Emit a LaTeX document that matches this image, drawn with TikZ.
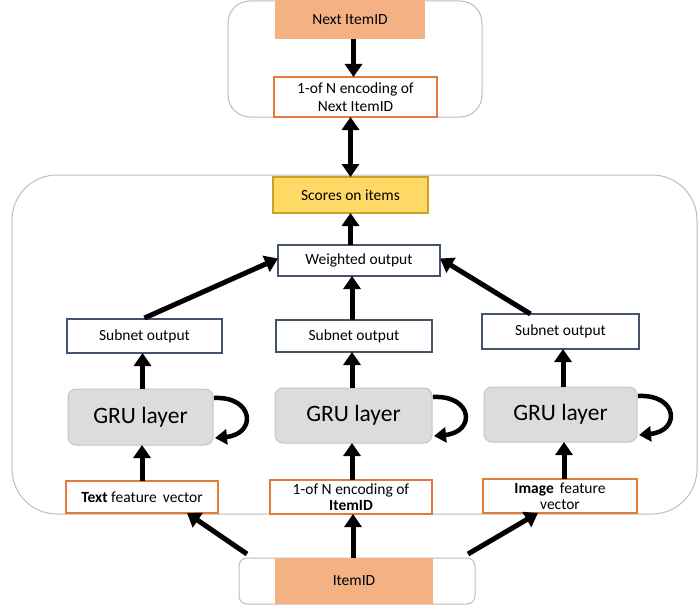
\documentclass[tikz,border=0pt]{standalone}
\usepackage{fontspec}
\setmainfont{Carlito}
\usetikzlibrary{arrows.meta,calc}
\definecolor{orFill}{HTML}{F4B183}
\definecolor{orLine}{HTML}{E07B39}
\definecolor{ylFill}{HTML}{FFD966}
\definecolor{ylLine}{HTML}{C9A227}
\definecolor{slate}{HTML}{44546A}
\definecolor{gruFill}{HTML}{DCDCDC}
\definecolor{gruLine}{HTML}{C4C4C4}
\definecolor{frame}{HTML}{BDBDBD}
\tikzset{
  box/.style={draw, line width=2.2pt, fill=white, outer sep=0pt, inner sep=1pt,
    align=center, font=\fontsize{15.5}{16}\selectfont},
  encbox/.style={box, draw=orLine},
  outbox/.style={box, draw=slate},
  grubox/.style={draw=gruLine, fill=gruFill, line width=1pt, rounded corners=8pt,
    outer sep=0pt, font=\fontsize{23.5}{25}\selectfont},
  container/.style={draw=frame, line width=1pt, fill=white},
  arr/.style={line width=5pt, -{Triangle[length=13pt,width=17pt]}},
  darr/.style={line width=5pt, {Triangle[length=13pt,width=17pt]}-{Triangle[length=13pt,width=17pt]}},
  selfloop/.style={line width=4.5pt, -{Triangle[length=12pt,width=15pt]}},
}
\begin{document}
\begin{tikzpicture}[x=1pt,y=-1pt]
\useasboundingbox (0,0) rectangle (699,610);

% frames around the three parts
\draw[container, rounded corners=22pt] (228,1) rectangle (482,117);
\draw[container, rounded corners=45pt] (12,175) rectangle (697,514);

% output part
\node[fill=orFill, minimum width=150pt, minimum height=39pt, outer sep=0pt,
  font=\fontsize{15.5}{16}\selectfont] (next) at (350,19.5) {Next ItemID};
\node[encbox, minimum width=163pt, minimum height=40pt, font=\fontsize{15.5}{17.5}\selectfont] (encNext) at (355.5,97)
  {1-of N encoding of\\Next ItemID};

% scoring and merging
\node[box, draw=ylLine, fill=ylFill, line width=1.2pt, minimum width=155pt, minimum height=36pt]
  (scores) at (350.5,195) {Scores on items};
\node[outbox, minimum width=162pt, minimum height=31pt] (weighted) at (359,260.5) {Weighted output};

% three subnets
\node[outbox, minimum width=155pt, minimum height=34pt] (subL) at (144.5,336) {Subnet output};
\node[outbox, minimum width=156pt, minimum height=32pt] (subM) at (354,336) {Subnet output};
\node[outbox, minimum width=157pt, minimum height=35pt] (subR) at (560.5,331.5) {Subnet output};

\node[grubox, minimum width=145pt, minimum height=56pt] (gL) at (140.5,417) {GRU layer};
\node[grubox, minimum width=157pt, minimum height=55pt] (gM) at (353.5,415.5) {GRU layer};
\node[grubox, minimum width=153pt, minimum height=55pt] (gR) at (560.5,414.5) {GRU layer};

\node[encbox, minimum width=152pt, minimum height=32pt] (tfv) at (142,497)
  {\textbf{Text} feature\, vector};
\node[encbox, minimum width=162pt, minimum height=34pt] (encM) at (351,497)
  {1-of N encoding of\\\textbf{ItemID}};
\node[encbox, minimum width=154pt, minimum height=34pt] (ifv) at (560,496)
  {\textbf{Image}\, feature\\vector};

% input part
\draw[container, rounded corners=8pt] (239,558) rectangle (475,604);
\node[fill=orFill, minimum width=158pt, minimum height=46pt, outer sep=0pt,
  font=\fontsize{15.5}{16}\selectfont] (item) at (354,581) {ItemID};

% connectors
\draw[arr] (next.south -| encNext.north) ++(-2,0) coordinate (nextS) -- (nextS |- encNext.north);
\draw[darr] (encNext.south -| scores.north) -- (scores.north);
\draw[arr] (weighted.north -| scores.south) -- (scores.south);

\draw[arr] ($(subL.north)+(0,-1)$) -- ($(weighted.west)+(0,-2)$);
\draw[arr] (subM.north -| 352,0) -- (weighted.south -| 352,0);
\draw[arr] ($(subR.north)+(-30,0)$) -- ($(weighted.east)+(0,-2)$);

\draw[arr] (gL.north -| subL.south) ++(-2,0) coordinate (gLn) -- (gLn |- subL.south);
\draw[arr] (gM.north -| 352,0) -- (subM.south -| 352,0);
\draw[arr] (gR.north -| 563,0) -- (subR.south -| 563,0);

\draw[arr] (tfv.north -| 142,0) -- (gL.south -| 142,0);
\draw[arr] (encM.north -| 352,0) -- (gM.south -| 352,0);
\draw[arr] (ifv.north -| 564,0) -- (gR.south -| 564,0);

\draw[arr] (item.north -| 353,0) -- (encM.south -| 353,0);
\coordinate (itemNW) at (247,554);
\coordinate (itemNE) at (468,554);
\draw[arr] (itemNW) -- ($(tfv.south)+(45,0)$);
\draw[arr] (itemNE) -- ($(ifv.south)+(-22,0)$);

% recurrent self connections
\foreach \g in {gL,gM,gR}{
  \draw[selfloop] ($(\g.north east)+(1,9)$) .. controls +(40,-2) and +(42,-4) .. ($(\g.south east)+(2,-7)$);
}
\end{tikzpicture}
\end{document}
